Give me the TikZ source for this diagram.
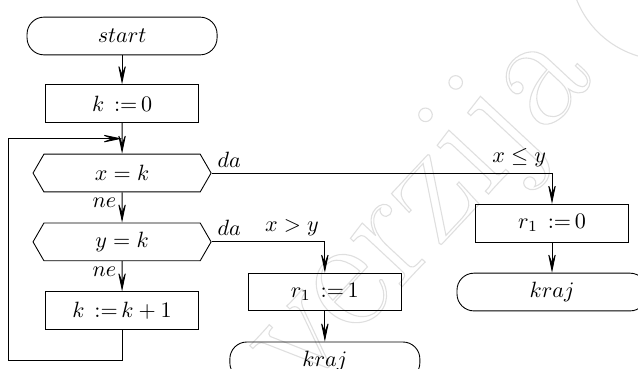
\documentclass[tikz,border=0pt]{standalone}
\usepackage{amsmath,amssymb}
\usepackage{xcolor}
\usepackage{tikz}
\usetikzlibrary{shapes.symbols, arrows.meta, positioning}

\newcommand{\dodijeli}{\;\,{:=}\,}
\newcommand{\obris}[1]{\special{pdf:code 1 Tr 0.5 w}#1\special{pdf:code 0 Tr}}

\begin{document}
\begin{tikzpicture}[
    node distance=0.48cm,
    term/.style={rectangle, draw, rounded corners=0.27cm, minimum width=3.02cm, minimum height=0.6cm},
    box/.style={rectangle, draw, minimum width=2.42cm, minimum height=0.6cm},
    test/.style={signal, draw, signal to=west and east, signal pointer angle=120, minimum width=2.83cm, minimum height=0.6cm},
    arrow/.style={-{Stealth[length=3.6mm, width=1.5mm, inset=1.9mm]}},
    label/.style={inner sep=2.5pt}
]
    \clip (-1.94,0.572) rectangle (8.20,-5.29);
    \useasboundingbox (-1.94,0.572) rectangle (8.20,-5.29);

    % Watermark
    \node[text=gray!25, rotate=47] (wm) at (4.76,-2.80) {\fontsize{75}{75}\selectfont\obris{verzija}};
    \draw[gray!25, line width=0.5pt] (8.63,1.13) circle (1.51cm);

    % Nodes
    \node[term] (start) {$start$};
    \node[box, below=0.46cm of start] (init) {$k\dodijeli 0$};
    \node[test, below=0.49cm of init] (xk) {$x = k$};
    \node[test, below=of xk] (yk) {$y = k$};
    \node[box, below=of yk] (inc) {$k\dodijeli k + 1$};
    \coordinate[below=0.25cm of init] (jn);

    \coordinate[right=5.41cm of xk.east] (c0);
    \node[box, below=0.49cm of c0] (res0) {$r_1\dodijeli 0$};
    \node[term, below=of res0] (end0) {$kraj$};

    \coordinate[right=1.80cm of yk.east] (c1);
    \node[box, below=0.49cm of c1] (res1) {$r_1\dodijeli 1$};
    \node[term, below=of res1] (end1) {$kraj$};

    % Arrows
    \draw[arrow] (start) -- (init);
    \draw[arrow] (init) -- (xk);
    \draw[arrow] (xk) -- (yk);
    \draw[arrow] (yk) -- (inc);
    \draw[arrow] (inc.south) -- ++(0,-0.48) -- ++(-1.80,0) |- (jn);
    \draw[arrow] (xk.east) -- (c0) -- (res0);
    \draw[arrow] (res0) -- (end0);
    \draw[arrow] (yk.east) -- (c1) -- (res1);
    \draw[arrow] (res1) -- (end1);

    % Labels
    \node[label, above right] at (xk.east) {$da$};
    \node[label, above right] at (yk.east) {$da$};
    \node[label, below left] at (xk.south) {$ne$};
    \node[label, below left] at (yk.south) {$ne$};
    \node[label, above left] at (c0) {$x \leq y$};
    \node[label, above left] at (c1) {$x > y$};
\end{tikzpicture}
\end{document}
